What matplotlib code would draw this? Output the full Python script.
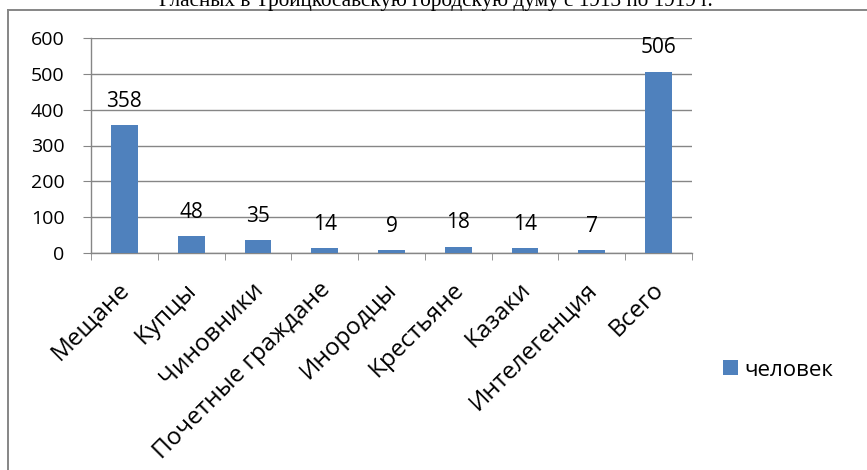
import matplotlib
matplotlib.use("Agg")
import matplotlib.pyplot as plt
from matplotlib.lines import Line2D
from matplotlib.transforms import ScaledTranslation

# data
categories = ["Мещане", "Купцы", "Чиновники", "Почетные граждане", "Инородцы",
              "Крестьяне", "Казаки", "Интелегенция", "Всего"]
values = [358, 48, 35, 14, 9, 18, 14, 7, 506]
series_name = "человек"
yticks = [0, 100, 200, 300, 400, 500, 600]

title = "Гласных в Троицкосавскую городскую думу с 1913 по 1919 г."

plt.rcParams['font.family'] = ['Open Sans', 'DejaVu Sans']

bar_color = '#4F81BD'
grid_color = '#868686'

fig = plt.figure(figsize=(8.67, 4.70), dpi=100)
ax = fig.add_axes([91 / 867, 1 - 253 / 470, 601 / 867, 215 / 470])

x = list(range(len(categories)))
bars = ax.bar(x, values, width=0.4, color=bar_color, label=series_name, zorder=3)

# value labels above bars
for xi, v in zip(x, values):
    ax.annotate(str(v), (xi, v), xytext=(0, 9.5), textcoords='offset points',
                ha='center', va='bottom', fontsize=15, color='black')

ax.set_xlim(-0.5, len(categories) - 0.5)
ax.set_ylim(0, 600)
ax.set_yticks(yticks)
ax.tick_params(axis='y', labelsize=14, length=6, color=grid_color, pad=13)
ax.yaxis.grid(True, color=grid_color, linewidth=1, zorder=0)

# category labels at centres, tick marks between categories
ax.set_xticks(x)
ax.set_xticklabels(categories, rotation=45, ha='right', va='center',
                   rotation_mode='anchor', fontsize=17.5)
ax.tick_params(axis='x', which='major', length=0, pad=24)
shift = ScaledTranslation(2 / 100, 0, fig.dpi_scale_trans)
for lab in ax.get_xticklabels():
    lab.set_transform(lab.get_transform() + shift)
ax.set_xticks([i - 0.5 for i in range(len(categories) + 1)], minor=True)
ax.tick_params(axis='x', which='minor', length=5, color=grid_color)

for side in ['top', 'right']:
    ax.spines[side].set_visible(False)
for side in ['left', 'bottom']:
    ax.spines[side].set_color(grid_color)
    ax.spines[side].set_linewidth(1)

ax.legend(loc='center left', bbox_to_anchor=(723 / 867, 1 - 370 / 470),
          bbox_transform=fig.transFigure, frameon=False, fontsize=16,
          handlelength=0.68, handleheight=0.68, handletextpad=0.3,
          borderaxespad=0, borderpad=0)

# chart frame (only top and left edges visible in the crop)
fig.add_artist(Line2D([8 / 867, 8 / 867], [0, 1 - 10 / 470],
                      transform=fig.transFigure, color=grid_color, linewidth=1.4))
fig.add_artist(Line2D([8 / 867, 1], [1 - 10 / 470, 1 - 10 / 470],
                      transform=fig.transFigure, color=grid_color, linewidth=1.4))

# title, cut off by the top of the picture
fig.text(436 / 867, 1 - 6 / 470, title, ha='center', va='baseline',
         fontsize=15.3, family=['Liberation Serif', 'DejaVu Serif'])

fig.savefig("out.png", dpi=100)
